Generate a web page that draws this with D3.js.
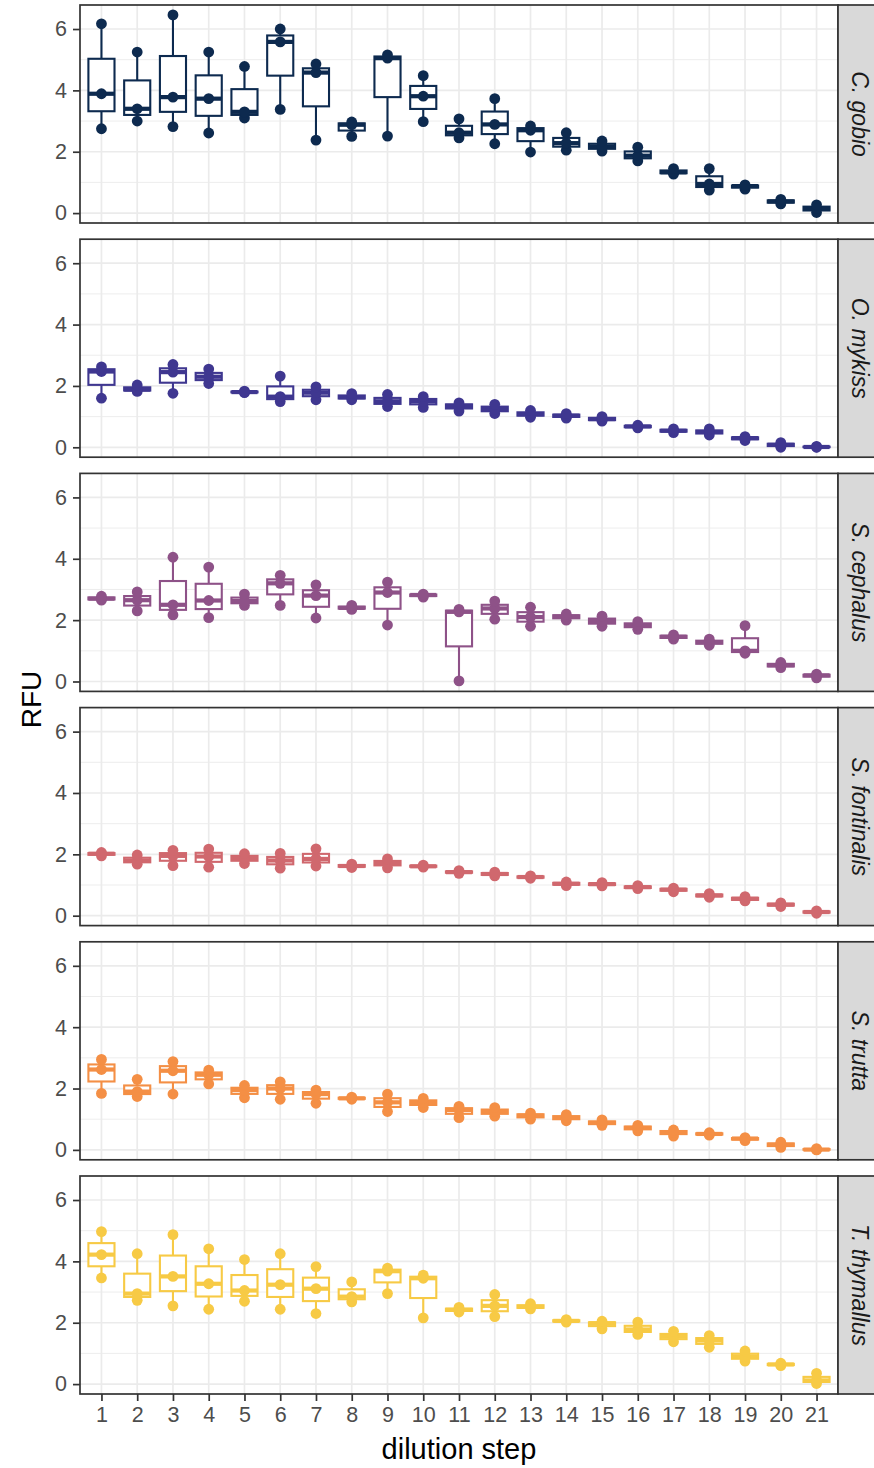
<!DOCTYPE html>
<html>
<head>
<meta charset="utf-8">
<script src="https://cdn.jsdelivr.net/npm/d3@7"></script>
<style>
  body { margin: 0; background: #fff; }
  svg { display: block; font-family: "Liberation Sans", Arial, sans-serif; }
</style>
</head>
<body>
<div id="chart"></div>
<script>
// Dilution steps (x categories)
const steps = ["1","2","3","4","5","6","7","8","9","10","11","12","13","14","15","16","17","18","19","20","21"];

// Facets and their colours
const species = ["C. gobio", "O. mykiss", "S. cephalus", "S. fontinalis", "S. trutta", "T. thymallus"];
const speciesColors = ["#0D2A4F", "#3F3790", "#8E5288", "#D0686E", "#F48F45", "#F7CA45"];

const yTicks = [0, 2, 4, 6];
const yMinor = [1, 3, 5];

// RFU readings, three replicates per dilution step
const gobio = [
  [2.75, 3.89, 6.17], [3.0, 3.4, 5.25], [2.82, 3.78, 6.46], [2.61, 3.73, 5.25], [3.1, 3.3, 4.78],
  [3.38, 5.58, 6.0], [2.38, 4.58, 4.86], [2.5, 2.88, 2.97], [2.51, 5.05, 5.16], [2.98, 3.81, 4.48],
  [2.45, 2.62, 3.07], [2.26, 2.89, 3.73], [1.99, 2.7, 2.84], [2.05, 2.28, 2.62], [2.02, 2.17, 2.35],
  [1.7, 1.87, 2.15], [1.27, 1.33, 1.45], [0.75, 0.95, 1.45], [0.78, 0.88, 0.92], [0.3, 0.38, 0.45],
  [0.02, 0.15, 0.27]
];
const mykiss = [
  [1.6, 2.47, 2.62], [1.82, 1.88, 2.03], [1.76, 2.45, 2.7], [2.08, 2.3, 2.55], [1.78, 1.8, 1.83],
  [1.49, 1.65, 2.32], [1.55, 1.78, 1.97], [1.55, 1.63, 1.75], [1.33, 1.5, 1.72], [1.3, 1.5, 1.65],
  [1.18, 1.35, 1.45], [1.1, 1.25, 1.4], [0.98, 1.08, 1.2], [0.95, 1.03, 1.1], [0.85, 0.92, 1.0],
  [0.63, 0.68, 0.72], [0.48, 0.54, 0.6], [0.4, 0.5, 0.6], [0.22, 0.3, 0.35], [0.0, 0.08, 0.15],
  [0.0, 0.01, 0.03]
];
const cephalus = [
  [2.65, 2.7, 2.78], [2.3, 2.65, 2.92], [2.17, 2.5, 4.05], [2.08, 2.64, 3.73], [2.48, 2.62, 2.85],
  [2.48, 3.2, 3.46], [2.07, 2.8, 3.15], [2.35, 2.4, 2.48], [1.84, 2.9, 3.24], [2.75, 2.82, 2.85],
  [0.02, 2.27, 2.35], [2.03, 2.38, 2.62], [1.8, 2.1, 2.42], [2.0, 2.12, 2.2], [1.8, 1.97, 2.13],
  [1.7, 1.84, 1.95], [1.38, 1.46, 1.52], [1.18, 1.28, 1.38], [0.92, 1.0, 1.82], [0.45, 0.53, 0.62],
  [0.12, 0.2, 0.24]
];
const fontinalis = [
  [1.95, 2.02, 2.06], [1.68, 1.8, 1.98], [1.63, 1.95, 2.13], [1.58, 1.93, 2.17], [1.7, 1.88, 2.02],
  [1.55, 1.8, 2.03], [1.62, 1.85, 2.18], [1.57, 1.62, 1.68], [1.56, 1.72, 1.85], [1.58, 1.61, 1.65],
  [1.38, 1.42, 1.47], [1.3, 1.36, 1.42], [1.22, 1.26, 1.3], [0.98, 1.04, 1.1], [0.97, 1.03, 1.08],
  [0.88, 0.93, 0.98], [0.78, 0.85, 0.9], [0.6, 0.66, 0.72], [0.48, 0.55, 0.62], [0.3, 0.36, 0.42],
  [0.08, 0.12, 0.16]
];
const trutta = [
  [1.84, 2.62, 2.95], [1.74, 1.9, 2.3], [1.82, 2.58, 2.88], [2.15, 2.45, 2.6], [1.7, 1.95, 2.1],
  [1.65, 2.0, 2.22], [1.52, 1.82, 1.95], [1.65, 1.68, 1.72], [1.25, 1.55, 1.82], [1.38, 1.55, 1.68],
  [1.05, 1.3, 1.42], [1.1, 1.25, 1.38], [1.0, 1.12, 1.2], [0.95, 1.05, 1.15], [0.8, 0.88, 0.98],
  [0.62, 0.72, 0.8], [0.45, 0.58, 0.65], [0.48, 0.52, 0.56], [0.3, 0.37, 0.4], [0.08, 0.17, 0.25],
  [0.0, 0.01, 0.04]
];
const thymallus = [
  [3.46, 4.22, 4.97], [2.73, 2.95, 4.25], [2.55, 3.51, 4.87], [2.44, 3.27, 4.41], [2.7, 3.05, 4.06],
  [2.44, 3.24, 4.25], [2.3, 3.11, 3.83], [2.68, 2.85, 3.33], [2.95, 3.68, 3.78], [2.16, 3.45, 3.55],
  [2.35, 2.42, 2.5], [2.2, 2.55, 2.92], [2.45, 2.52, 2.62], [2.02, 2.06, 2.1], [1.8, 1.98, 2.05],
  [1.62, 1.78, 2.02], [1.38, 1.55, 1.72], [1.2, 1.42, 1.58], [0.75, 0.9, 1.08], [0.6, 0.64, 0.68],
  [0.02, 0.12, 0.35]
];
const rfu = [gobio, mykiss, cephalus, fontinalis, trutta, thymallus];

// Layout
const W = 874, H = 1468;
const panelLeft = 80, panelW = 758, panelTop = 5, panelH = 218, panelGap = 16.2;
const stripW = 40;

const svg = d3.select("#chart")
  .append("svg")
  .attr("width", W)
  .attr("height", H);

// Scales (shared by all facets)
const x = d3.scalePoint()
  .domain(steps)
  .range([0, panelW])
  .padding(0.6);

const [lo, hi] = d3.extent(rfu.flat(2));
const pad = (hi - lo) * 0.05;
const y = d3.scaleLinear()
  .domain([lo - pad, hi + pad])
  .range([panelH, 0]);

const boxW = x.step() * 0.73;
const grid = "#EBEBEB";
const ink = "#333333";
const lw = 2.1;

rfu.forEach((reps, i) => {
  const color = speciesColors[i];
  const g = svg.append("g")
    .attr("transform", `translate(${panelLeft},${panelTop + i * (panelH + panelGap)})`);

  // grid lines
  g.append("g").selectAll("line")
    .data(yMinor)
    .join("line")
    .attr("x1", 0).attr("x2", panelW)
    .attr("y1", d => y(d)).attr("y2", d => y(d))
    .attr("stroke", grid).attr("stroke-width", 0.9);
  g.append("g").selectAll("line")
    .data(yTicks)
    .join("line")
    .attr("x1", 0).attr("x2", panelW)
    .attr("y1", d => y(d)).attr("y2", d => y(d))
    .attr("stroke", grid).attr("stroke-width", 1.7);
  g.append("g").selectAll("line")
    .data(steps)
    .join("line")
    .attr("x1", d => x(d)).attr("x2", d => x(d))
    .attr("y1", 0).attr("y2", panelH)
    .attr("stroke", grid).attr("stroke-width", 1.7);

  // boxplot stats per step
  const stats = reps.map((v, j) => {
    const s = v.slice().sort(d3.ascending);
    return {
      step: steps[j],
      vals: s,
      q1: d3.quantile(s, 0.25),
      med: d3.quantile(s, 0.5),
      q3: d3.quantile(s, 0.75),
      min: s[0],
      max: s[s.length - 1]
    };
  });

  const boxes = g.append("g").selectAll("g")
    .data(stats)
    .join("g")
    .attr("transform", d => `translate(${x(d.step)},0)`);

  boxes.append("line")
    .attr("y1", d => y(d.max)).attr("y2", d => y(d.q3))
    .attr("stroke", color).attr("stroke-width", lw);
  boxes.append("line")
    .attr("y1", d => y(d.q1)).attr("y2", d => y(d.min))
    .attr("stroke", color).attr("stroke-width", lw);
  boxes.append("rect")
    .attr("x", -boxW / 2)
    .attr("width", boxW)
    .attr("y", d => y(d.q3))
    .attr("height", d => y(d.q1) - y(d.q3))
    .attr("fill", "#fff")
    .attr("stroke", color).attr("stroke-width", lw);
  boxes.append("line")
    .attr("x1", -boxW / 2).attr("x2", boxW / 2)
    .attr("y1", d => y(d.med)).attr("y2", d => y(d.med))
    .attr("stroke", color).attr("stroke-width", lw * 2);

  // replicate points
  boxes.selectAll("circle")
    .data(d => d.vals)
    .join("circle")
    .attr("cy", d => y(d))
    .attr("r", 5.4)
    .attr("fill", color);

  // panel border
  g.append("rect")
    .attr("width", panelW).attr("height", panelH)
    .attr("fill", "none")
    .attr("stroke", ink).attr("stroke-width", 1.7);

  // y axis
  g.append("g")
    .call(d3.axisLeft(y).tickValues(yTicks).tickSize(7).tickPadding(6))
    .call(a => a.select(".domain").remove())
    .call(a => a.selectAll("line").attr("stroke", ink).attr("stroke-width", 1.7))
    .call(a => a.selectAll("text")
      .attr("fill", "#4D4D4D")
      .style("font-size", "21.5px")
      .style("font-family", "'Liberation Sans', Arial, sans-serif"));

  // facet strip
  g.append("rect")
    .attr("x", panelW).attr("y", 0)
    .attr("width", stripW).attr("height", panelH)
    .attr("fill", "#D9D9D9")
    .attr("stroke", ink).attr("stroke-width", 1.7);
  g.append("text")
    .attr("transform", `translate(${panelW + 22},${panelH / 2})rotate(90)`)
    .attr("text-anchor", "middle")
    .attr("dy", "0.36em")
    .style("font-size", "23px")
    .style("font-style", "italic")
    .attr("fill", "#1A1A1A")
    .text(species[i]);

  // x axis on bottom facet only
  if (i === rfu.length - 1) {
    g.append("g")
      .attr("transform", `translate(0,${panelH})`)
      .call(d3.axisBottom(x).tickSize(7).tickPadding(6))
      .call(a => a.select(".domain").remove())
      .call(a => a.selectAll("line").attr("stroke", ink).attr("stroke-width", 1.7))
      .call(a => a.selectAll("text")
        .attr("fill", "#4D4D4D")
        .style("font-size", "21.5px")
        .style("font-family", "'Liberation Sans', Arial, sans-serif"));
  }
});

// Axis titles
const panelsBottom = panelTop + rfu.length * panelH + (rfu.length - 1) * panelGap;

svg.append("text")
  .attr("x", panelLeft + panelW / 2)
  .attr("y", 1459)
  .attr("text-anchor", "middle")
  .style("font-size", "29px")
  .attr("fill", "#000")
  .text("dilution step");

svg.append("text")
  .attr("transform", `translate(41,${(panelTop + panelsBottom) / 2})rotate(-90)`)
  .attr("text-anchor", "middle")
  .style("font-size", "28px")
  .attr("fill", "#000")
  .text("RFU");
</script>
</body>
</html>
